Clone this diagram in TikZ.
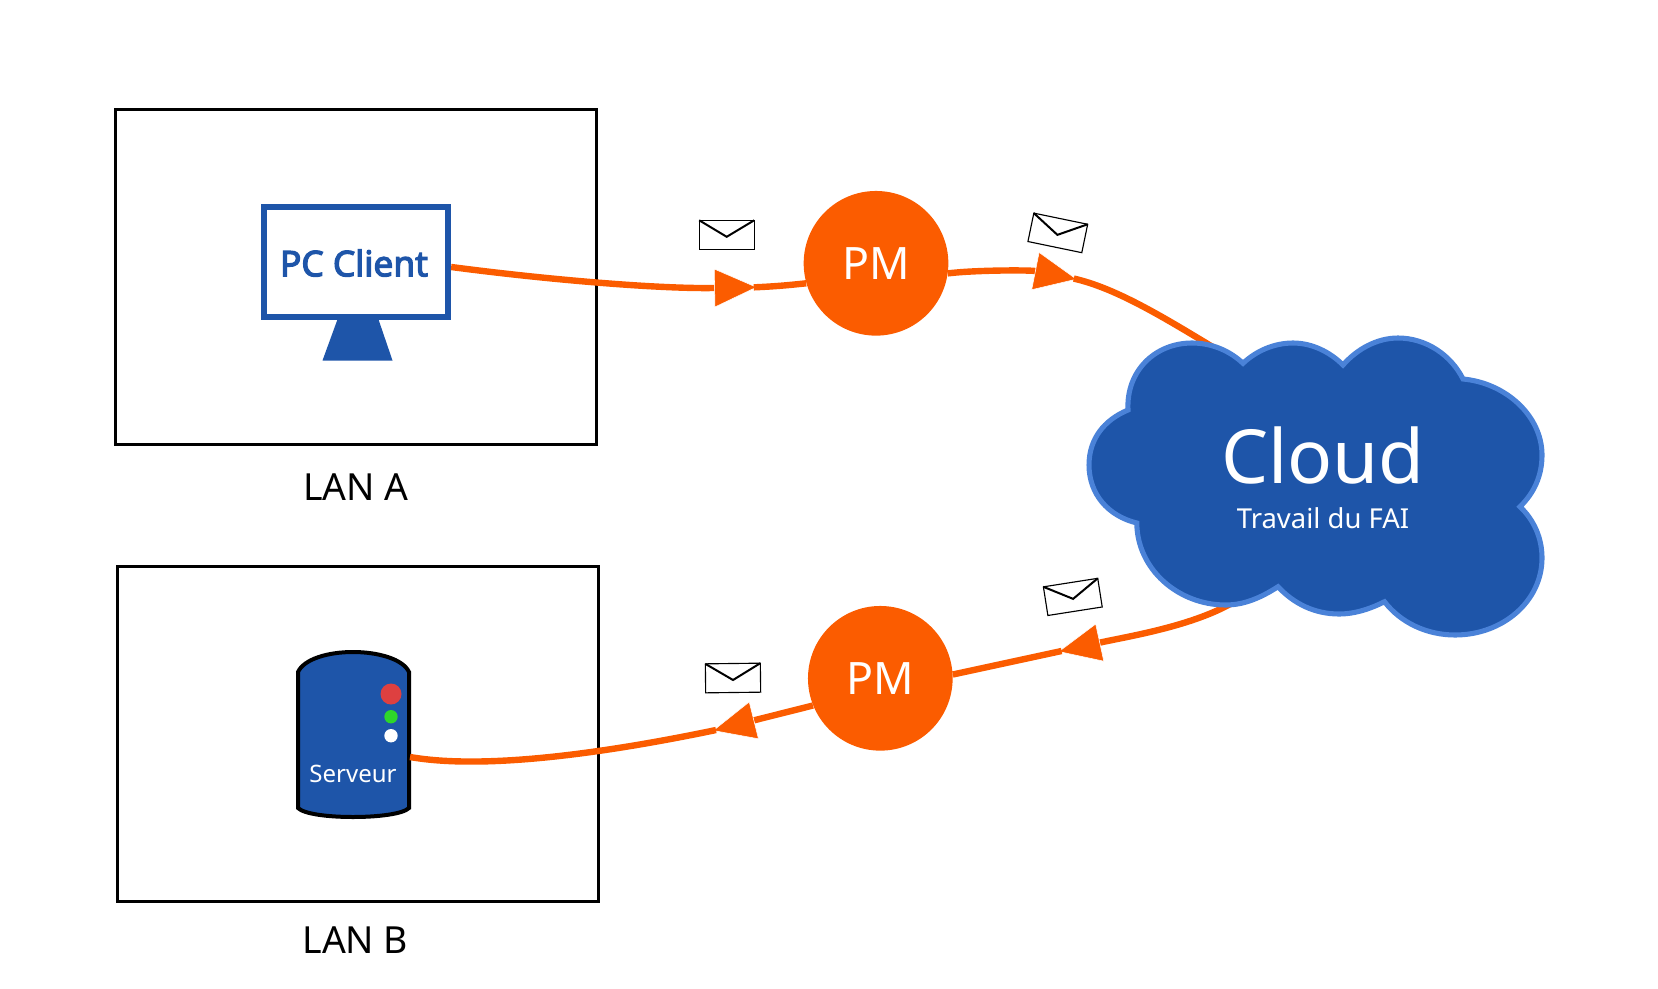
\documentclass[tikz,border=0pt]{standalone}
\usepackage{fontspec}
\setmainfont{Noto Sans}
\newfontfamily\clientfont[FakeBold=3.5]{Noto Sans}
\usetikzlibrary{positioning, arrows.meta}
\definecolor{fai}{HTML}{1E55A9}
\definecolor{cloudline}{HTML}{4A82D8}
\definecolor{flow}{HTML}{FB5C00}
\definecolor{ledred}{HTML}{DE4040}
\definecolor{ledgreen}{HTML}{2ED62A}
\tikzset{
    lanbox/.style={draw=black, line width=2.2pt, minimum width=360.8pt, minimum height=251pt},
    lanlabel/.style={font=\fontsize{28}{30}\selectfont, inner sep=0pt},
    pm/.style={circle, fill=flow, text=white, minimum size=108.5pt, inner sep=0pt, font=\fontsize{33.5}{36}\selectfont},
    flowline/.style={draw=flow, line width=4.8pt},
    aftertip/.style={flowline, shorten <=-2.5pt},
    flowtip/.style={flowline, -{Triangle[length=32pt, width=29pt, fill=flow, color=white, line width=.4pt]}},
    mail/.pic={
        \draw[line width=.85pt, fill=white] (-27.5,-14.5) rectangle (27.5,14.5);
        \draw[line width=1.5pt, line join=miter] (-27.5,-14.5) -- (0,2) -- (27.5,-14.5);
    }
}
\begin{document}
\begin{tikzpicture}[x=.75pt, y=-.75pt]
\useasboundingbox (0,0) rectangle (1658,988);
% the two LANs
\node[lanbox] (lanA) at (356,277.2) {};
\node[lanbox] (lanB) at (358,734.2) {};
\node[lanlabel, below=20.8pt of lanA] (lanAtext) {LAN A};
\node[lanlabel, below=17.8pt of lanB, xshift=-2pt] (lanBtext) {LAN B};
% pc client
\fill[fai] (338,318) -- (378,318) -- (392.5,360.5) -- (322.5,360.5) -- cycle;
\node[draw=fai, fill=white, line width=4.5pt, minimum width=138.2pt, minimum height=82.5pt] (client) at (356,262) {};
\node[text=fai, inner sep=0pt, font=\fontsize{26.5}{28}\clientfont] (clientname) at (354,263) {PC Client};
% server
\draw[fill=fai, line width=3pt]
    (298,672) .. controls (304,659) and (328,652) .. (353,652)
    .. controls (378,652) and (403,659) .. (409,672)
    -- (409,808) .. controls (403,814) and (378,817) .. (353,817)
    .. controls (328,817) and (304,814) .. (298,808) -- cycle;
\fill[ledred] (391,694) circle (10.5);
\fill[ledgreen] (391,716.7) circle (6.7);
\fill[white] (391,735.7) circle (6.7);
\node[text=white, inner sep=0pt, font=\fontsize{18}{20}\selectfont] (server) at (353,774) {Serveur};
\coordinate (serverport) at (410,757);
% packets on the way
\node[pm] (pm1) at (876,263.3) {PM};
\node[pm] (pm2) at (880.3,678.3) {PM};
\coordinate (tip1) at (757,287.2);
\coordinate (tip2) at (1077,279.3);
\coordinate (tip3) at (1058.3,651.7);
\coordinate (tip4) at (712.7,730.7);
\coordinate (cloudin) at (1216,349);
\coordinate (cloudout) at (1240,598);
\draw[flowtip] (client.-3) .. controls (550,280) and (660,289) .. (tip1);
\draw[aftertip] (tip1) .. controls (775,286.5) and (790,285) .. (pm1.196);
\draw[flowtip] (pm1.-8) .. controls (975,270) and (1030,270) .. (tip2);
\draw[aftertip] (tip2) .. controls (1115,288) and (1160,315) .. (cloudin);
\draw[flowtip] (cloudout) .. controls (1200,625) and (1130,636) .. (tip3);
\draw[aftertip] (tip3) -- (pm2.3);
\draw[flowtip] (pm2.202) -- (tip4);
\draw[aftertip] (tip4) .. controls (620,750) and (490,771) .. (serverport);
\pic at (726.7,234.8) {mail};
\pic[rotate=-11.7] at (1057.8,232.9) {mail};
\pic[rotate=8.9] at (1072.8,596.9) {mail};
\pic[rotate=.7] at (733,678) {mail};
% cloud
\draw[fill=fai, draw=cloudline, line width=3.8pt, line join=miter]
    (1128,410) .. controls (1126,371) and (1155,343) .. (1192,343)
    .. controls (1212,343) and (1230,351) .. (1243,363.3)
    .. controls (1256,351) and (1274,343) .. (1293,343)
    .. controls (1312,343) and (1330,352) .. (1343,365)
    .. controls (1357,349) and (1377,338) .. (1398,338)
    .. controls (1426,338) and (1451,355) .. (1463,379)
    .. controls (1506,383) and (1542,416) .. (1542,455)
    .. controls (1542,476) and (1534,493) .. (1520,506.7)
    .. controls (1534,520) and (1542,538) .. (1542,558)
    .. controls (1542,601) and (1503,635) .. (1455,635)
    .. controls (1426,635) and (1400,622) .. (1384.5,601.7)
    .. controls (1372,608) and (1356,614) .. (1339,614)
    .. controls (1315,614) and (1294,604) .. (1278,586.7)
    .. controls (1262,597) and (1245,605) .. (1225.7,605)
    .. controls (1178,605) and (1137,569) .. (1136.8,523)
    .. controls (1108,516) and (1089,494) .. (1089,465)
    .. controls (1089,439) and (1104,420) .. (1128,410) -- cycle;
\node[text=white, inner sep=0pt, font=\fontsize{56}{60}\selectfont] (cloudname) at (1323,455) {Cloud};
\node[text=white, inner sep=0pt, font=\fontsize{20.6}{22}\selectfont] (cloudtext) at (1323,518) {Travail du FAI};
\end{tikzpicture}
\end{document}
